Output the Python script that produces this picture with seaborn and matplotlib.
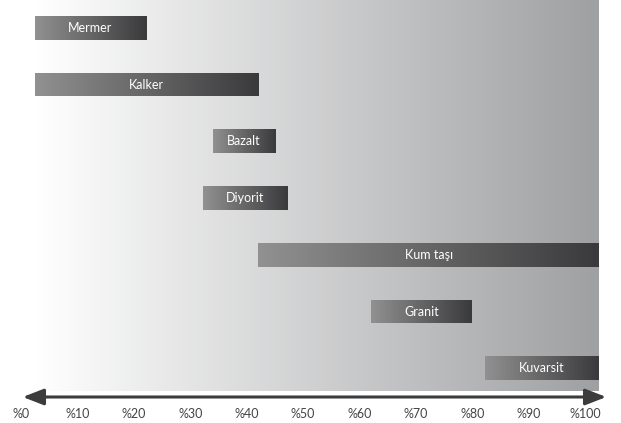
import numpy as np
import pandas as pd
import matplotlib
matplotlib.use("Agg")
import matplotlib.pyplot as plt
import matplotlib.transforms as mtransforms
from matplotlib.colors import LinearSegmentedColormap
import seaborn as sns

# --- data ---
rocks = ["Mermer", "Kalker", "Bazalt", "Diyorit", "Kum taşı", "Granit", "Kuvarsit"]
start = [0, 0, 31.5, 29.7, 39.6, 59.6, 79.8]
end = [19.7, 39.6, 42.6, 44.7, 100, 77.4, 100]
tick_values = [0, 10, 20, 30, 40, 50, 60, 70, 80, 90, 100]
tick_labels = ["%0", "%10", "%20", "%30", "%40", "%50", "%60", "%70", "%80", "%90", "%100"]

df = pd.DataFrame({"rock": rocks, "start": start, "end": end})
df["width"] = df["end"] - df["start"]

sns.set_theme(style="white")
plt.rcParams["font.family"] = ["Lato", "DejaVu Sans"]

W, H, DPI = 621, 423, 100
fig = plt.figure(figsize=(W / DPI, H / DPI), dpi=DPI)
ax = fig.add_axes([35 / W, 1 - 391 / H, 564 / W, 391 / H])

# background gradient
bg_cmap = LinearSegmentedColormap.from_list("bg", ["#ffffff", "#9fa0a2"])
grad = np.linspace(0, 1, 256).reshape(1, -1)
ax.imshow(grad, cmap=bg_cmap, aspect="auto", extent=(0, 100, 6.4, -0.49),
          zorder=0, interpolation="bicubic")

sns.barplot(data=df, x="width", y="rock", orient="h", ax=ax, width=0.42,
            color="#666666", zorder=2)

bar_cmap = LinearSegmentedColormap.from_list("bar", ["#919191", "#3a3a3c"])
for patch, s, label in zip(ax.patches, df["start"], df["rock"]):
    patch.set_x(s)
    patch.set_facecolor("none")
    patch.set_edgecolor("none")
    x0, y0 = patch.get_x(), patch.get_y()
    w, h = patch.get_width(), patch.get_height()
    im = ax.imshow(grad, cmap=bar_cmap, aspect="auto",
                   extent=(x0, x0 + w, y0 + h, y0), zorder=3,
                   interpolation="bicubic")
    im.set_clip_path(patch)
    ax.text(x0 + w / 2, y0 + h / 2, label, color="white", ha="center",
            va="center", fontsize=9, zorder=4)

ax.set_xlim(0, 100)
ax.set_ylim(6.4, -0.49)
ax.set_xlabel("")
ax.set_ylabel("")
ax.set_yticks([])
ax.set_xticks(tick_values)
ax.set_xticklabels(tick_labels, fontsize=9, color="#444444")
ax.tick_params(axis="x", length=0, pad=12)
offset = mtransforms.ScaledTranslation(-14 / DPI, 0, fig.dpi_scale_trans)
for lbl in ax.get_xticklabels():
    lbl.set_transform(lbl.get_transform() + offset)
for sp in ax.spines.values():
    sp.set_visible(False)

# double-headed axis arrow
fig.patches.append(matplotlib.patches.FancyArrowPatch(
    (20 / W, 1 - 397 / H), (609 / W, 1 - 397 / H),
    transform=fig.transFigure, arrowstyle="<|-|>,head_length=0.9,head_width=0.35",
    mutation_scale=14, color="#3c3c3c", linewidth=2.2))

fig.savefig("out.png", dpi=DPI)
